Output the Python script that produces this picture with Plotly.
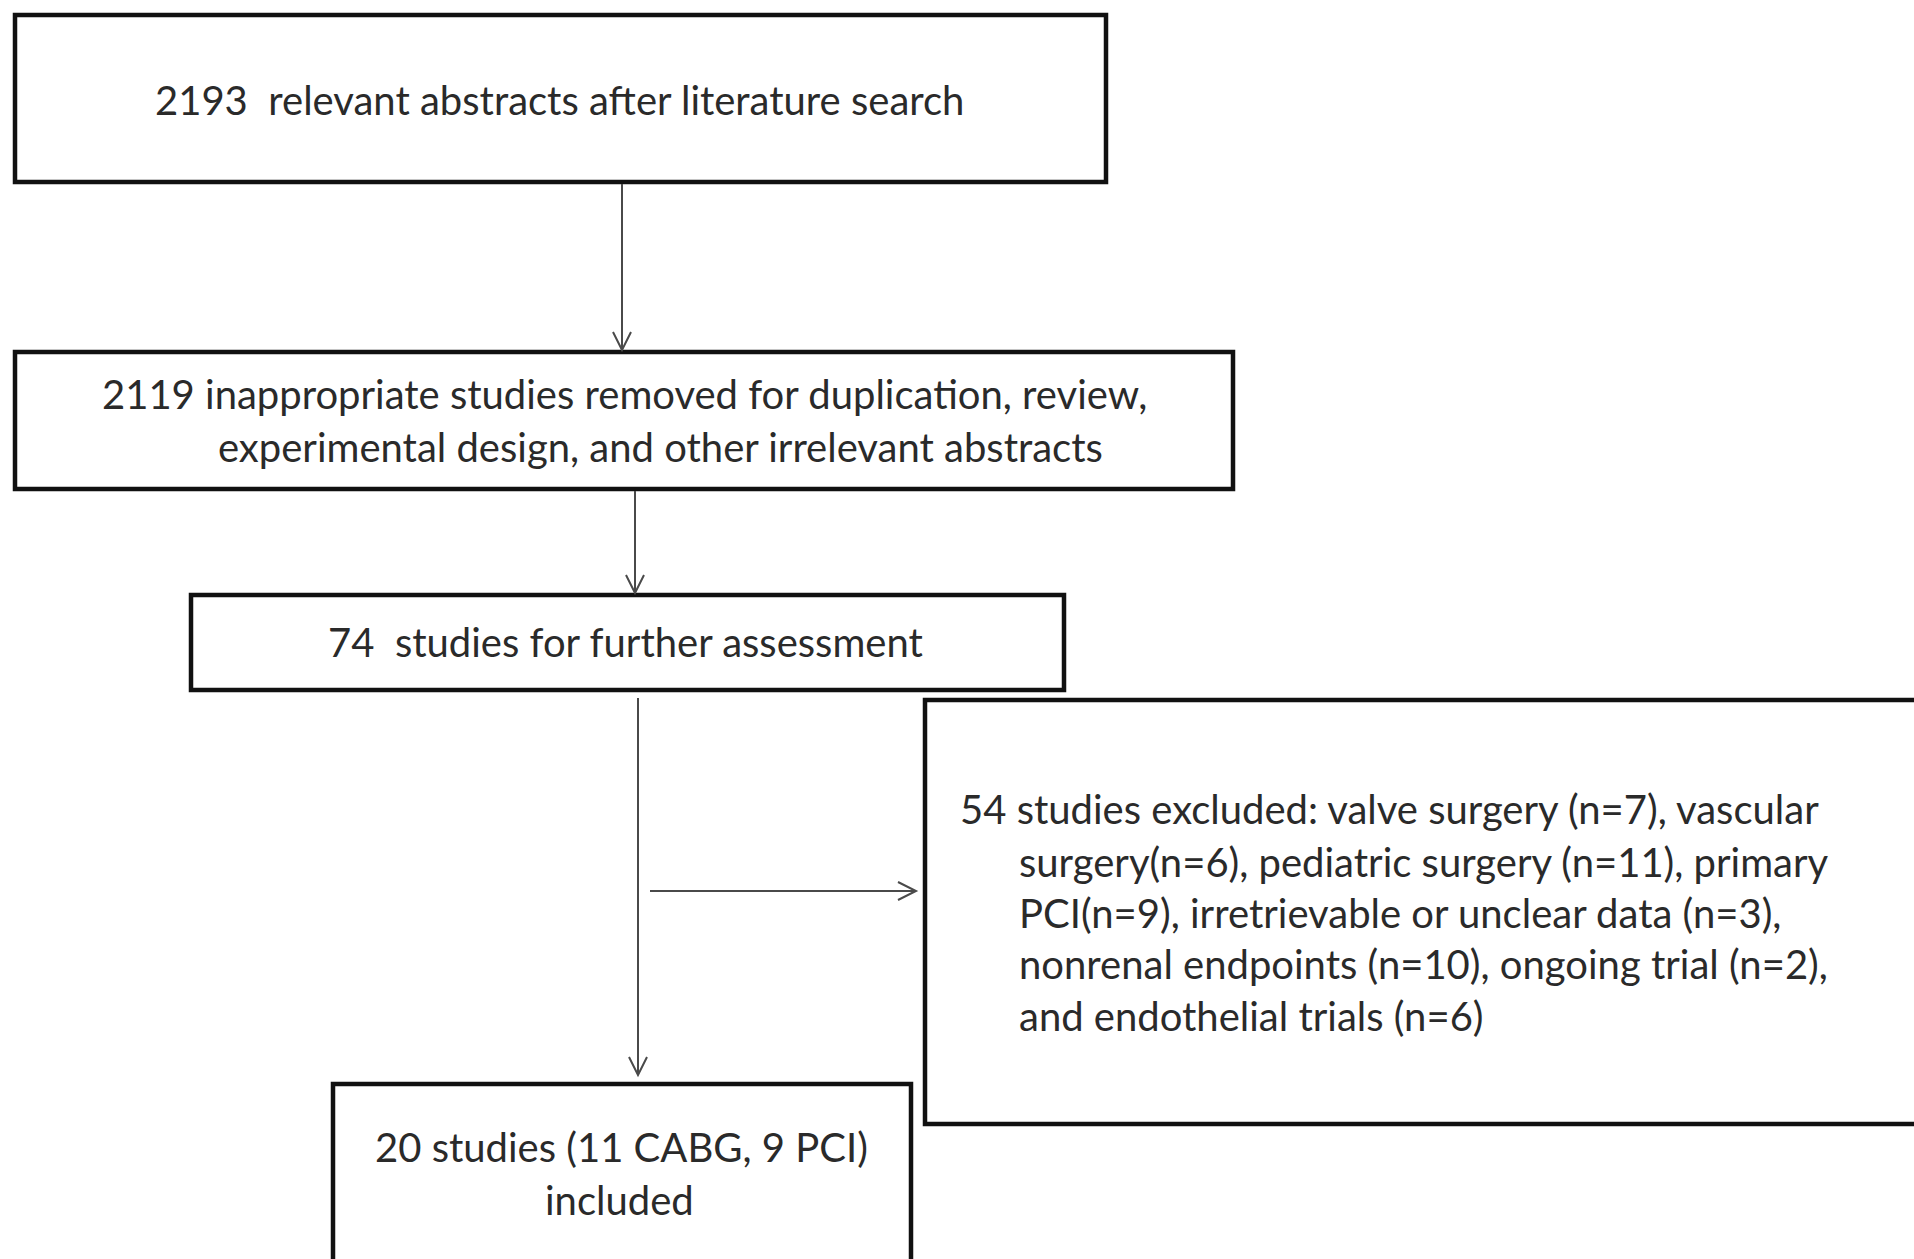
import plotly.graph_objects as go

# ---- data (flow-diagram counts and texts) ----
n_abstracts = 2193
n_removed = 2119
n_assessed = 74
n_excluded = 54
n_included = 20
included_split = {"CABG": 11, "PCI": 9}
excl_reasons = ["valve surgery", "vascular surgery", "pediatric surgery", "primary PCI",
                "irretrievable or unclear data", "nonrenal endpoints", "ongoing trial",
                "endothelial trials"]
excl_counts = [7, 6, 11, 9, 3, 10, 2, 6]

box1_lines = [f"{n_abstracts}  relevant abstracts after literature search"]
box2_lines = [f"{n_removed} inappropriate studies removed for duplication, review,",
              "experimental design, and other irrelevant abstracts"]
box3_lines = [f"{n_assessed}  studies for further assessment"]
box4_lines = [
    f"{n_excluded} studies excluded: {excl_reasons[0]} (n={excl_counts[0]}), vascular",
    f"surgery(n={excl_counts[1]}), {excl_reasons[2]} (n={excl_counts[2]}), primary",
    f"PCI(n={excl_counts[3]}), {excl_reasons[4]} (n={excl_counts[4]}),",
    f"{excl_reasons[5]} (n={excl_counts[5]}), {excl_reasons[6]} (n={excl_counts[6]}),",
    f"and {excl_reasons[7]} (n={excl_counts[7]})",
]
box5_lines = [f"{n_included} studies ({included_split['CABG']} CABG, {included_split['PCI']} PCI)",
              "included"]

# ---- layout ----
W, H = 1914, 1259
FONT = "Lato"
FS = 40
TXT = "#2a2a2a"

fig = go.Figure()
fig.add_trace(go.Scatter(x=[None], y=[None], showlegend=False, hoverinfo="skip"))
fig.update_layout(
    width=W, height=H, margin=dict(l=0, r=0, t=0, b=0),
    paper_bgcolor="white", plot_bgcolor="white", showlegend=False,
    xaxis=dict(range=[0, W], visible=False, fixedrange=True),
    yaxis=dict(range=[H, 0], visible=False, fixedrange=True),
)

boxes = [(15, 15, 1106, 182), (15, 352, 1233, 489), (191, 595, 1064, 690),
         (925, 700, 1930, 1124), (333, 1084, 911, 1275)]
for (x0, y0, x1, y1) in boxes:
    fig.add_shape(type="rect", x0=x0, y0=y0, x1=x1, y1=y1, xref="x", yref="y",
                  line=dict(color="#111111", width=4.5), fillcolor="rgba(0,0,0,0)")

ACOL = "#4a4a4a"
arrows = [(622, 184, 622, 350), (635, 491, 635, 593), (638, 698, 638, 1075),
          (650, 891, 916, 891)]
for (x0, y0, x1, y1) in arrows:
    fig.add_shape(type="line", x0=x0, y0=y0, x1=x1, y1=y1, xref="x", yref="y",
                  line=dict(color=ACOL, width=2))
    L, hw = 18, 9
    if x0 == x1:
        path = f"M {x1-hw},{y1-L} L {x1},{y1} L {x1+hw},{y1-L}"
    else:
        path = f"M {x1-L},{y1-hw} L {x1},{y1} L {x1-L},{y1+hw}"
    fig.add_shape(type="path", path=path, xref="x", yref="y",
                  line=dict(color=ACOL, width=2))


def put(text, x, y, anchor="center"):
    fig.add_annotation(x=x, y=y, xref="x", yref="y", text=text, showarrow=False,
                       xanchor=anchor, yanchor="middle",
                       font=dict(family=FONT, size=FS, color=TXT))


put(box1_lines[0], 559, 100)
put(box2_lines[0], 624, 394)
put(box2_lines[1], 660, 447)
put(box3_lines[0], 625, 642)
ys4 = [809, 862, 913, 964, 1016]
for i, (t, yy) in enumerate(zip(box4_lines, ys4)):
    put(t, 958 if i == 0 else 1017, yy, anchor="left")
put(box5_lines[0], 621, 1147)
put(box5_lines[1], 619, 1200)

fig.write_html("out.html", config={"displayModeBar": False},
               post_script="document.body.style.margin='0';document.body.style.overflow='hidden';")
